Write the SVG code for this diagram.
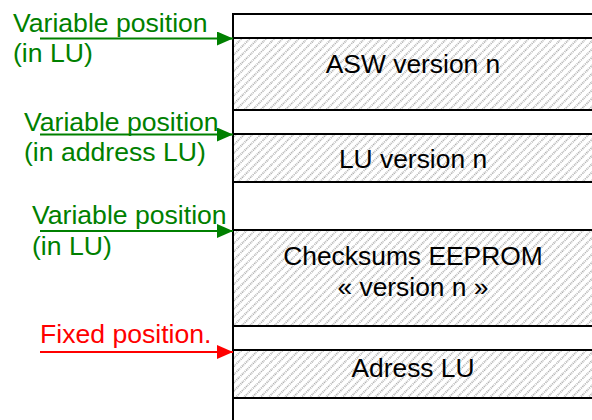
<svg xmlns="http://www.w3.org/2000/svg" width="592" height="420" viewBox="0 0 592 420">
<style>
.lbl{font-family:"Liberation Sans",Arial,sans-serif;font-size:26.6px}
.g{fill:#008000}
.r{fill:#ff0000}
.box{fill:#fff;stroke:#000;stroke-width:2}
.hat{fill:url(#hatch);stroke:#000;stroke-width:2}
.txt{font-family:"Liberation Sans",Arial,sans-serif;font-size:26.4px;fill:#000;text-anchor:middle}
</style>
<defs>
<pattern id="hatch" width="5.8" height="5.8" patternUnits="userSpaceOnUse" patternTransform="rotate(45)">
<rect width="5.8" height="5.8" fill="#fff"/>
<line x1="1" y1="0" x2="1" y2="5.8" stroke="#a0a0a0" stroke-width="1.6" stroke-dasharray="1 1"/>
</pattern>
<marker id="ag" viewBox="0 0 16 14" refX="16" refY="7" markerWidth="16" markerHeight="14" markerUnits="userSpaceOnUse" orient="auto">
<path d="M0,0 L16,7 L0,14 Z" fill="#008000"/>
</marker>
<marker id="ar" viewBox="0 0 16 14" refX="16" refY="7" markerWidth="16" markerHeight="14" markerUnits="userSpaceOnUse" orient="auto">
<path d="M0,0 L16,7 L0,14 Z" fill="#ff0000"/>
</marker>
</defs>
<g id="memory">
<rect id="gap0" class="box" x="233" y="14" width="400" height="24"/>
<g id="asw"><rect class="hat" x="233" y="38" width="400" height="72"/><text class="txt" x="413" y="73">ASW version n</text></g>
<rect id="gap1" class="box" x="233" y="110" width="400" height="24"/>
<g id="lu"><rect class="hat" x="233" y="134" width="400" height="48"/><text class="txt" x="413" y="168">LU version n</text></g>
<rect id="gap2" class="box" x="233" y="182" width="400" height="48"/>
<g id="checksums"><rect class="hat" x="233" y="230" width="400" height="96"/><text class="txt" x="413" y="265">Checksums EEPROM</text><text class="txt" x="413" y="296">« version n »</text></g>
<rect id="gap3" class="box" x="233" y="326" width="400" height="24"/>
<g id="adress"><rect class="hat" x="233" y="350" width="400" height="48"/><text class="txt" x="413" y="377">Adress LU</text></g>
<rect id="gap4" class="box" x="233" y="398" width="400" height="40"/>
</g>
<g id="labels">
<g id="lbl1"><text class="lbl g" x="13" y="32">Variable position</text><text class="lbl g" x="13" y="62">(in LU)</text></g>
<g id="lbl2"><text class="lbl g" x="24" y="131">Variable position</text><text class="lbl g" x="24" y="161">(in address LU)</text></g>
<g id="lbl3"><text class="lbl g" x="32" y="224">Variable position</text><text class="lbl g" x="32" y="255">(in LU)</text></g>
<g id="lbl4"><text class="lbl r" x="40" y="343">Fixed position.</text></g>
</g>
<g id="connectors">
<line x1="40" y1="38.5" x2="233" y2="38.5" stroke="#008000" stroke-width="2" marker-end="url(#ag)"/>
<line x1="40" y1="134.5" x2="233" y2="134.5" stroke="#008000" stroke-width="2" marker-end="url(#ag)"/>
<line x1="40" y1="231" x2="233" y2="231" stroke="#008000" stroke-width="2" marker-end="url(#ag)"/>
<line x1="40" y1="352" x2="233" y2="352" stroke="#ff0000" stroke-width="2" marker-end="url(#ar)"/>
</g>
</svg>
